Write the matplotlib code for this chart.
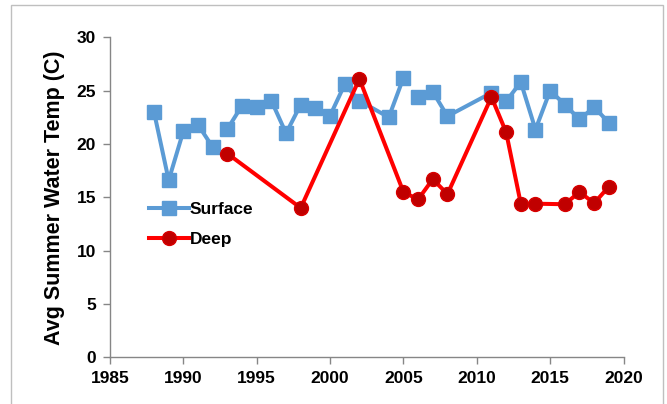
import matplotlib
matplotlib.use("Agg")
import matplotlib.pyplot as plt
from matplotlib.patches import Rectangle

plt.rcParams['font.family'] = ['Liberation Sans', 'DejaVu Sans']

# Surface series, split into the connected runs seen in the chart
surface_years = [1988, 1989, 1990, 1991, 1992,
                 1993, 1994, 1995, 1996, 1997, 1998, 1999, 2000, 2001, 2002, 2004, 2005,
                 2006, 2007, 2008, 2011, 2012, 2013, 2014, 2015, 2016, 2017, 2018, 2019]
surface_temp = [23.0, 16.6, 21.2, 21.8, 19.7,
                21.4, 23.6, 23.45, 24.05, 21.0, 23.7, 23.35, 22.65, 25.6, 24.05, 22.5, 26.2,
                24.4, 24.9, 22.6, 24.8, 24.0, 25.8, 21.35, 25.0, 23.7, 22.3, 23.45, 22.0]
surface_breaks_after = [1992, 2005]   # no line drawn after these years

deep_years = [1993, 1998, 2002, 2005, 2006, 2007, 2008, 2011, 2012, 2013, 2014, 2016, 2017, 2018, 2019]
deep_temp = [19.1, 14.0, 26.1, 15.5, 14.8, 16.7, 15.3, 24.4, 21.1, 14.4, 14.4, 14.35, 15.5, 14.45, 16.0]

x_ticks = [1985, 1990, 1995, 2000, 2005, 2010, 2015, 2020]
y_ticks = [0, 5, 10, 15, 20, 25, 30]

blue = '#5B9BD5'
red = '#FF0000'
dark_red = '#C00000'

fig = plt.figure(figsize=(6.67, 4.04), dpi=100)
ax = fig.add_axes([110/667, 1-357.3/404, (623.5-110)/667, (357.3-37.3)/404])

segments = []
cur_x, cur_y = [], []
for yr, t in zip(surface_years, surface_temp):
    cur_x.append(yr); cur_y.append(t)
    if yr in surface_breaks_after:
        segments.append((cur_x, cur_y)); cur_x, cur_y = [], []
if cur_x:
    segments.append((cur_x, cur_y))

for i, (sx, sy) in enumerate(segments):
    ax.plot(sx, sy, color=blue, lw=2.9, marker='s', ms=9.5, mfc=blue, mec=blue,
            label='Surface' if i == 0 else None, zorder=3, clip_on=False)

ax.plot(deep_years, deep_temp, color=red, lw=2.9, marker='o', ms=10, mfc=dark_red, mec='#D80000',
        mew=1.0, label='Deep', zorder=4, clip_on=False)

ax.set_xlim(1985, 2020)
ax.set_ylim(0, 30)
ax.set_xticks(x_ticks)
ax.set_yticks(y_ticks)
ax.set_xticklabels([str(v) for v in x_ticks], fontsize=12.5, fontweight='bold')
ax.set_yticklabels([str(v) for v in y_ticks], fontsize=12.5, fontweight='bold')
ax.tick_params(direction='out', length=5, width=1, color='#868686', pad=5)

for s in ['top', 'right']:
    ax.spines[s].set_visible(False)
for s in ['left', 'bottom']:
    ax.spines[s].set_color('#868686')
    ax.spines[s].set_linewidth(1.0)

ax.set_ylabel('Avg Summer Water Temp (C)', fontsize=15.5, fontweight='bold', labelpad=8)

leg = ax.legend(loc='upper left', bbox_to_anchor=(0.045, 0.535), frameon=False,
                handlelength=2.3, handletextpad=0.05, labelspacing=0.85,
                prop={'weight': 'bold', 'size': 12.5})

fig.patches.append(Rectangle((11/667, -0.05), (663-11)/667, 1.05-5/404, transform=fig.transFigure,
                             fill=False, edgecolor='#BFBFBF', lw=1.0, clip_on=False))

fig.savefig('out.png', dpi=100)
